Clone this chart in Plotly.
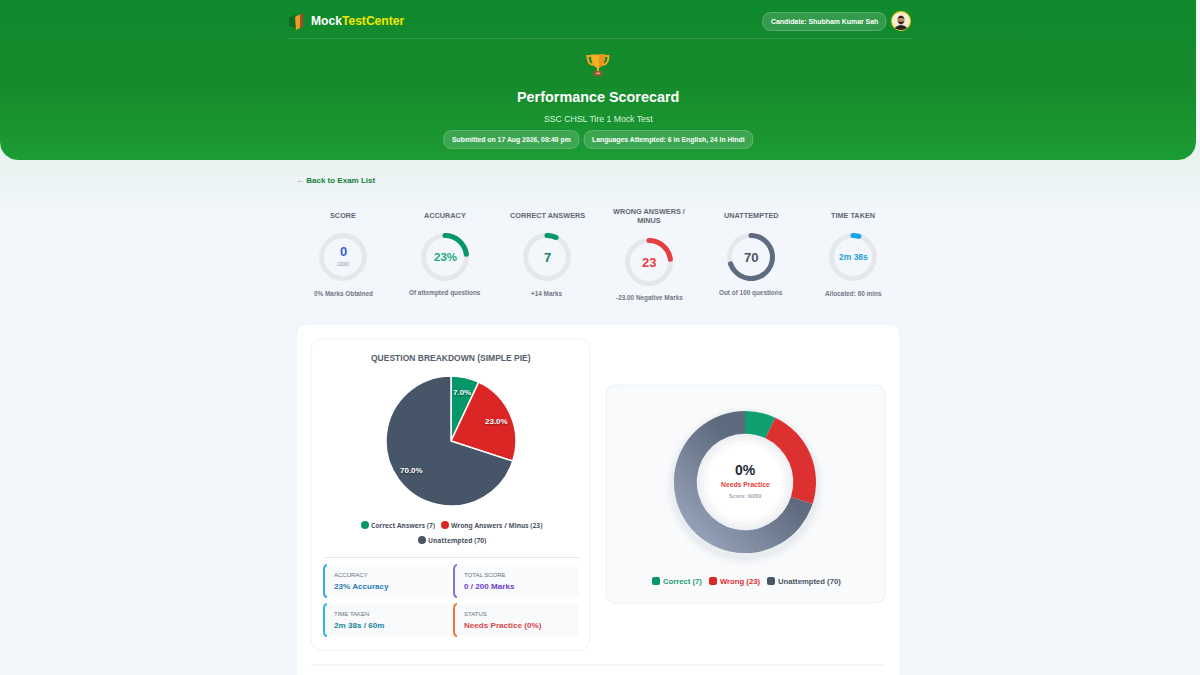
import base64
import numpy as np
import plotly.graph_objects as go

# page size in pixels, everything below is laid out on a pixel axis
W, H = 1200, 675
SANS = "Liberation Sans"
NOTO = "Noto Sans"

# stat gauges
gauge_titles = ["SCORE", "ACCURACY", "CORRECT ANSWERS", "WRONG ANSWERS /<br>MINUS", "UNATTEMPTED", "TIME TAKEN"]
gauge_values = [0, 23, 7, 23, 70, 158]
gauge_totals = [200, 100, 100, 100, 100, 3600]
gauge_texts = ["0", "23%", "7", "23", "70", "2m 38s"]
gauge_notes = ["0% Marks Obtained", "Of attempted questions", "+14 Marks", "-23.00 Negative Marks", "Out of 100 questions", "Allocated: 60 mins"]
gauge_colors = ["#2563eb", "#059669", "#059669", "#e53e3e", "#5f6b80", "#0ea5e9"]
gauge_text_colors = ["#3b5bdb", "#22a97f", "#1b8062", "#e53e3e", "#4b5563", "#1f9fd8"]
gauge_text_sizes = [13, 11.5, 13, 13, 13, 8.5]

# question breakdown
pie_labels = ["Correct Answers", "Wrong Answers / Minus", "Unattempted"]
pie_values = [7, 23, 70]
pie_colors = ["#059669", "#dc2626", "#475569"]
donut_labels = ["Correct", "Wrong", "Unattempted"]
donut_colors = ["#10a070", "#dd3030", "#5e6a7e"]

# small stat boxes
box_labels = ["ACCURACY", "TOTAL SCORE", "TIME TAKEN", "STATUS"]
box_values = ["23% Accuracy", "0 / 200 Marks", "2m 38s / 60m", "Needs Practice (0%)"]
box_text_colors = ["#2b80b5", "#6d3fc8", "#16869c", "#d9434a"]
box_bar_colors = ["#38a9e0", "#8b6fd8", "#2cb8dc", "#f0782a"]

shapes, notes, images = [], [], []


def text(x, y, s, size, color, bold=False, anchor="center", family=SANS):
    # annotations carry about 2px of padding on the left
    notes.append(dict(
        x=x-2 if anchor == "left" else x, y=y, xref="x", yref="y", text=s, showarrow=False,
        xanchor=anchor, yanchor="middle",
        font=dict(size=size, color=color, family=family, weight=700 if bold else 400),
    ))


def round_rect(x0, y0, x1, y1, r, fill, line=None, width=1, layer="below"):
    path = (f"M{x0+r},{y0} L{x1-r},{y0} Q{x1},{y0} {x1},{y0+r} L{x1},{y1-r} Q{x1},{y1} {x1-r},{y1} "
            f"L{x0+r},{y1} Q{x0},{y1} {x0},{y1-r} L{x0},{y0+r} Q{x0},{y0} {x0+r},{y0} Z")
    shapes.append(dict(type="path", path=path, xref="x", yref="y", fillcolor=fill, layer=layer,
                       line=dict(color=line or "rgba(0,0,0,0)", width=width if line else 0)))


def circle(cx, cy, r, fill, layer="below"):
    shapes.append(dict(type="circle", xref="x", yref="y", x0=cx-r, x1=cx+r, y0=cy-r, y1=cy+r,
                       fillcolor=fill, line=dict(width=0), layer=layer))


def svg_image(svg, x, y, w, h, layer="above"):
    src = "data:image/svg+xml;base64," + base64.b64encode(svg.encode()).decode()
    images.append(dict(source=src, xref="paper", yref="paper", x=x/W, y=1-y/H, sizex=w/W, sizey=h/H,
                       xanchor="left", yanchor="top", sizing="stretch", layer=layer))


def domain(cx, cy, r):
    return dict(x=[(cx-r)/W, (cx+r)/W], y=[1-(cy+r)/H, 1-(cy-r)/H])


fig = go.Figure()

# soft tint under the header
fig.add_trace(go.Scatter(
    x=[0, 1200, 1200, 0, 0], y=[140, 140, 230, 230, 140], mode="lines", fill="toself", line=dict(width=0),
    hoverinfo="skip", showlegend=False,
    fillgradient=dict(type="vertical", start=140, stop=230,
                      colorscale=[[0, "#e8f3f0"], [0.22, "#e8f3f0"], [0.7, "#f0f6f9"], [1, "#f3f7fc"]]),
))
# header band with rounded bottom corners
arc = np.linspace(0, np.pi/2, 12)
hx = [0, 1196] + list(1196-18+18*np.cos(arc)) + list(18-18*np.sin(arc)) + [0]
hy = [0, 0] + list(160-18+18*np.sin(arc)) + list(160-18+18*np.cos(arc)) + [0]
fig.add_trace(go.Scatter(
    x=hx, y=hy, mode="lines", fill="toself", line=dict(width=0), hoverinfo="skip", showlegend=False,
    fillgradient=dict(type="vertical", start=0, stop=160,
                      colorscale=[[0, "#0f8a2e"], [0.5, "#168a2b"], [1, "#1c9c34"]]),
))

# cards
round_rect(296, 324, 900, 720, 12, "#ffffff", "#edf1f5")
round_rect(311, 339, 590, 650, 11, "#ffffff", "#eff2f5")
round_rect(606, 385, 885, 603, 11, "#f8fafc", "#ecf0f4")
shapes.append(dict(type="line", xref="x", yref="y", x0=311, x1=885, y0=665, y1=665, line=dict(color="#e9edf2", width=1), layer="below"))
shapes.append(dict(type="line", xref="x", yref="y", x0=324, x1=579, y0=557.5, y1=557.5, line=dict(color="#e5e7eb", width=1), layer="below"))
shapes.append(dict(type="line", xref="x", yref="y", x0=288, x1=912, y0=38.5, y1=38.5, line=dict(color="rgba(255,255,255,0.14)", width=1), layer="above"))

# header content
svg_image('<svg xmlns="http://www.w3.org/2000/svg" viewBox="0 0 18 18">'
          '<polygon points="1,4 8,2 8,15 1,13" fill="#0d6a26"/><polygon points="7,4 13,1 12,15 8,17" fill="#e8a020"/>'
          '<polygon points="12,1.5 15,0.5 14.5,14 12,15" fill="#b5432a"/></svg>', 288, 13, 18, 18)
text(311, 21, "Mock<span style='color:#f2e600'>TestCenter</span>", 12.1, "#ffffff", True, "left")
round_rect(762.5, 12.5, 886, 30.5, 9, "rgba(255,255,255,0.15)", "rgba(255,255,255,0.24)", 1, "above")
text(824, 21, "Candidate: Shubham Kumar Sah", 6.9, "#ffffff", True)
svg_image('<svg xmlns="http://www.w3.org/2000/svg" viewBox="0 0 20 20">'
          '<circle cx="10" cy="10" r="10" fill="#f3d21f"/><circle cx="10" cy="10" r="8.7" fill="#f6efe0"/>'
          '<path d="M3.5 17 Q10 11 16.5 17 Q10 21 3.5 17Z" fill="#2a221c"/>'
          '<ellipse cx="10" cy="9" rx="3.6" ry="4.6" fill="#b98a63"/>'
          '<path d="M6.2 8 Q10 1.5 13.8 8 Q10 5.5 6.2 8Z" fill="#1d1612"/>'
          '<path d="M6.6 10 Q10 16.5 13.4 10 Q10 12 6.6 10Z" fill="#1d1612"/></svg>', 891, 11, 20, 20)
svg_image('<svg xmlns="http://www.w3.org/2000/svg" viewBox="0 0 24 24">'
          '<path d="M5 3 H1.5 Q1.5 11 7 12" fill="none" stroke="#f2a51e" stroke-width="2"/>'
          '<path d="M19 3 H22.5 Q22.5 11 17 12" fill="none" stroke="#f2a51e" stroke-width="2"/>'
          '<path d="M5 1.5 H19 Q19 13 13 15 V18 H11 V15 Q5 13 5 1.5Z" fill="#f6b026"/>'
          '<path d="M13 1.5 H19 Q19 13 13 15Z" fill="#e8941a"/>'
          '<rect x="7.5" y="18" width="9" height="5" rx="0.8" fill="#8a5a3c"/>'
          '<rect x="10" y="19.6" width="4" height="1.6" fill="#e8b04a"/></svg>', 586, 53, 24, 24)
text(598, 97, "Performance Scorecard", 14.4, "#ffffff", True)
text(598, 119, "SSC CHSL Tire 1 Mock Test", 8.7, "#d6f3da")
round_rect(443.5, 130.5, 579, 148.5, 9, "rgba(255,255,255,0.15)", "rgba(255,255,255,0.24)", 1, "above")
text(511, 139.5, "Submitted on 17 Aug 2026, 08:40 pm", 6.85, "#ffffff", True)
round_rect(584, 130.5, 753, 148.5, 9, "rgba(255,255,255,0.15)", "rgba(255,255,255,0.24)", 1, "above")
text(668.5, 139.5, "Languages Attempted: 6 in English, 24 in Hindi", 6.85, "#ffffff", True)

text(296, 180.5, "<span style='color:#6b9a80'>←</span> Back to Exam List", 8, "#15803d", True, "left")

# stat gauges
gauge_x = [343, 445, 547, 649, 751, 853]
for i, title in enumerate(gauge_titles):
    cx = gauge_x[i]
    two_line = "<br>" in title
    cy = 262 if two_line else 257
    fig.add_trace(go.Pie(
        values=[gauge_values[i], gauge_totals[i]-gauge_values[i]], sort=False, direction="clockwise", rotation=0,
        hole=0.79, domain=domain(cx, cy, 24), textinfo="none", hoverinfo="skip", showlegend=False,
        marker=dict(colors=[gauge_colors[i], "#e5e7eb"], line=dict(width=0)),
    ))
    # rounded ends of the arc
    if gauge_values[i]:
        end = 2*np.pi*gauge_values[i]/gauge_totals[i]
        circle(cx, cy-21.5, 2.5, gauge_colors[i], "above")
        circle(cx+21.5*np.sin(end), cy-21.5*np.cos(end), 2.5, gauge_colors[i], "above")
    text(cx, 215.5, title, 7.3, "#5f6774", True)
    text(cx, cy-6 if i == 0 else cy, gauge_texts[i], gauge_text_sizes[i], gauge_text_colors[i], True)
    if i == 0:
        text(cx, cy+7, "/200", 6, "#8b93a0")
    text(cx, 298 if two_line else 293, gauge_notes[i], 6.4, "#717885", True)

# simple pie
text(451, 358, "QUESTION BREAKDOWN (SIMPLE PIE)", 8.5, "#555e6c", True)
pie_cx, pie_cy, pie_r = 451, 441, 65
fig.add_trace(go.Pie(
    labels=pie_labels, values=pie_values, sort=False, direction="clockwise", rotation=0,
    domain=domain(pie_cx, pie_cy, pie_r), textinfo="none", hoverinfo="skip", showlegend=False,
    marker=dict(colors=pie_colors, line=dict(color="#ffffff", width=1.5)),
))
# slice labels sit at three quarters of the radius, on each slice's mid angle
pie_total = sum(pie_values)
mid = 2*np.pi*(np.cumsum(pie_values)-np.array(pie_values)/2)/pie_total
for v, a in zip(pie_values, mid):
    text(pie_cx+0.76*pie_r*np.sin(a), pie_cy-0.76*pie_r*np.cos(a), f"{100*v/pie_total:.1f}%", 8, "#ffffff", True)
    notes[-1]["font"]["shadow"] = "0px 1px 2px rgba(0,0,0,0.5)"
pie_legend_x = [365, 445, 422]
pie_legend_y = [525, 525, 540]
for i, label in enumerate(pie_labels):
    circle(pie_legend_x[i], pie_legend_y[i], 4, pie_colors[i])
    text(pie_legend_x[i]+6, pie_legend_y[i], f"{label} ({pie_values[i]})", 6.6, "#4b5563", True, "left", NOTO)

# stat boxes
box_x = [324, 454, 324, 454]
box_y = [565, 565, 604, 604]
for i, label in enumerate(box_labels):
    x0, y0 = box_x[i], box_y[i]
    x1, y1 = x0+125, y0+32
    round_rect(x0, y0, x1, y1, 4, "#f8fafc")
    shapes.append(dict(type="path", xref="x", yref="y", layer="below", line=dict(color=box_bar_colors[i], width=2),
                       path=f"M{x0+3},{y0} Q{x0},{y0} {x0},{y0+5} L{x0},{y1-5} Q{x0},{y1} {x0+3},{y1}"))
    text(x0+10, y0+10, label, 6, "#6b7280", False, "left")
    text(x0+10, y0+21, box_values[i], 8.1, box_text_colors[i], True, "left")

# shadow behind the donut, then the donut and its center disc
for r, a in zip([80, 78, 76, 74], [0.012, 0.016, 0.02, 0.025]):
    circle(745, 486, r, f"rgba(60,70,90,{a})")
circle(745, 482, 71, "#f8fafc")
circle(745, 482, 48, "#eef0f3")
circle(745, 482, 45, "#f4f5f7")
circle(745, 482, 41, "#fbfbfc")
circle(745, 482, 37, "#ffffff")
fig.add_trace(go.Pie(
    labels=donut_labels, values=pie_values, sort=False, direction="clockwise", rotation=0, hole=0.68,
    domain=domain(745, 482, 71), textinfo="none", hoverinfo="skip", showlegend=False,
    marker=dict(colors=donut_colors, line=dict(width=0)),
))
# light sheen across the lower left of the ring
svg_image('<svg xmlns="http://www.w3.org/2000/svg" viewBox="0 0 142 142"><defs>'
          '<linearGradient id="g" x1="0.05" y1="0.95" x2="0.62" y2="0.38">'
          '<stop offset="0" stop-color="#b8c6dc" stop-opacity="0.62"/>'
          '<stop offset="1" stop-color="#b8c6dc" stop-opacity="0"/></linearGradient></defs>'
          '<circle cx="71" cy="71" r="59.5" fill="none" stroke="url(#g)" stroke-width="23"/></svg>', 674, 411, 142, 142)
text(745, 470, "0%", 14, "#1f2937", True)
text(745, 484, "Needs Practice", 6.8, "#e53e3e", True)
text(745, 496, "Score: 0/200", 5.5, "#9ca3af", True)

donut_legend_x = [652, 709, 767]
donut_text_colors = ["#1f9a72", "#dc2f2f", "#4b5563"]
for i, label in enumerate(donut_labels):
    x = donut_legend_x[i]
    round_rect(x, 577, x+8, 585, 2, ["#059669", "#dc2626", "#475569"][i])
    text(x+11, 581, f"{label} ({pie_values[i]})", 7.7, donut_text_colors[i], True, "left")

fig.update_layout(
    width=W, height=H, margin=dict(l=0, r=0, t=0, b=0), paper_bgcolor="#f3f7fc", plot_bgcolor="rgba(0,0,0,0)",
    xaxis=dict(range=[0, W], visible=False, fixedrange=True),
    yaxis=dict(range=[H, 0], visible=False, fixedrange=True),
    shapes=shapes, annotations=notes, images=images, showlegend=False,
)

fig.write_html("out.html", config=dict(displayModeBar=False), post_script="document.body.style.margin='0';")
